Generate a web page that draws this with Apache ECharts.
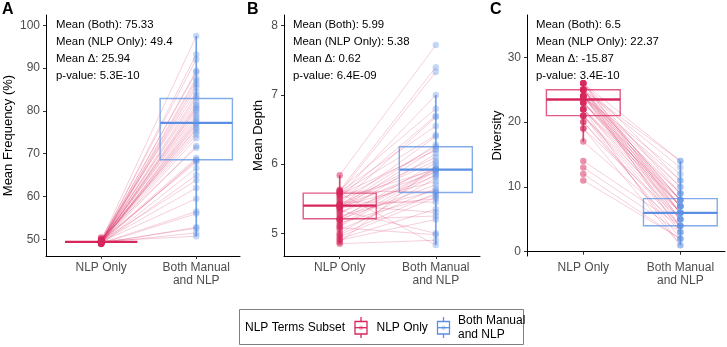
<!DOCTYPE html>
<html>
<head>
<meta charset="utf-8">
<script src="https://cdn.jsdelivr.net/npm/echarts@6/dist/echarts.min.js"></script>
<style>
html, body { margin: 0; padding: 0; background: #fff; }
#chart { width: 727px; height: 347px; }
</style>
</head>
<body>
<div id="chart"></div>
<script>
var groups = ["NLP Only", "Both Manual\nand NLP"];

// A - mean frequency (%), paired by index
var freqNlp = [49.4, 49.2, 49.6, 49.3, 49.5, 49.0, 49.4, 49.8, 49.3, 49.1, 49.5, 50.2, 49.4, 48.9, 49.6, 49.3,
  49.4, 49.7, 49.2, 49.5, 50.4, 49.4, 49.0, 49.3, 49.6, 49.4, 49.2, 49.5, 49.8, 49.3, 49.4, 48.9, 49.6, 49.1,
  49.4, 50.0, 49.3, 49.5, 49.2, 49.4, 49.7, 49.3, 49.0, 49.5, 49.4, 49.2];
var freqBoth = [83.0, 77.4, 92.0, 68.6, 80.2, 56.0, 87.6, 75.0, 79.6, 52.8, 85.5, 71.4, 89.4, 77.0, 63.8, 81.5,
  76.6, 97.5, 68.4, 74.4, 84.4, 59.5, 78.4, 80.6, 50.7, 87.0, 73.6, 69.0, 82.2, 76.0, 93.2, 65.0, 79.0, 56.5,
  86.2, 75.6, 71.8, 89.0, 52.6, 81.0, 68.0, 77.8, 66.6, 83.6, 62.0, 51.5];
// box stats: [min, q1, median, q3, max]
var freqBoxNlp = [49.4, 49.4, 49.4, 49.4, 49.4];
var freqBoxBoth = [50.7, 68.6, 77.2, 82.9, 97.5];

// B - mean depth
var depthNlp = [5.84, 5.63, 5.62, 5.61, 5.60, 5.59, 5.58, 5.57, 5.56, 5.55, 5.52, 5.50, 5.48, 5.45, 5.43, 5.42,
  5.41, 5.40, 5.40, 5.40, 5.39, 5.38, 5.37, 5.36, 5.35, 5.33, 5.30, 5.28, 5.25, 5.22, 5.21, 5.20, 5.20, 5.18,
  5.15, 5.12, 5.10, 5.08, 5.05, 5.00, 4.98, 4.95, 4.92, 4.90, 4.87, 4.85];
var depthBoth = [7.72, 6.80, 7.40, 5.60, 6.55, 7.33, 4.83, 6.42, 6.20, 7.00, 6.70, 5.92, 6.25, 5.45, 6.68, 6.10,
  5.30, 6.40, 5.88, 6.05, 5.75, 6.28, 5.50, 5.95, 6.22, 5.00, 5.83, 6.15, 5.62, 5.93, 6.02, 5.70, 5.25, 5.92,
  5.55, 5.90, 5.85, 4.98, 5.65, 5.80, 5.58, 5.52, 5.35, 5.20, 5.98, 4.90];
var depthBoxNlp = [4.85, 5.21, 5.40, 5.58, 5.84];
var depthBoxBoth = [4.83, 5.59, 5.92, 6.25, 7.00];

// C - diversity
var divNlp = [26, 26, 26, 26, 26, 25, 25, 25, 25, 25, 25, 25, 25, 25, 24, 24, 24, 24, 24, 24, 24, 24, 24,
  23, 23, 23, 23, 23, 22, 22, 22, 22, 22, 21, 21, 21, 21, 20, 20, 19, 19, 17, 14, 13, 12, 11];
var divBoth = [14, 11, 9, 7, 6, 14, 13, 10, 8, 8, 7, 6, 5, 3, 12, 11, 10, 9, 8, 7, 6, 5, 4,
  9, 8, 7, 6, 7, 8, 7, 6, 5, 1, 6, 5, 4, 2, 4, 3, 5, 1, 4, 4, 3, 2, 2];
var divBoxNlp = [17, 21, 23.5, 25, 26];
var divBoxBoth = [1, 4, 6, 8.2, 14];

var yTicksA = [50, 60, 70, 80, 90, 100];
var yTicksB = [5, 6, 7, 8];
var yTicksC = [0, 10, 20, 30];

var statsA = ["Mean (Both): 75.33", "Mean (NLP Only): 49.4", "Mean \u0394: 25.94", "p-value: 5.3E-10"];
var statsB = ["Mean (Both): 5.99", "Mean (NLP Only): 5.38", "Mean \u0394: 0.62", "p-value: 6.4E-09"];
var statsC = ["Mean (Both): 6.5", "Mean (NLP Only): 22.37", "Mean \u0394: -15.87", "p-value: 3.4E-10"];

var RED = "#D7265B";
var BLUE = "#5B8FE3";
var FONT = "Liberation Sans, Arial, sans-serif";

var panels = [
  { letter: "A", name: "Mean Frequency (%)", left: 46, width: 194, ymin: 46.1, ymax: 102.4, ticks: yTicksA,
    nameGap: 31, nlp: freqNlp, both: freqBoth, boxes: [freqBoxNlp, freqBoxBoth], stats: statsA, lx: 2, tx: 56 },
  { letter: "B", name: "Mean Depth", left: 284, width: 196, ymin: 4.672, ymax: 8.155, ticks: yTicksB,
    nameGap: 19, nlp: depthNlp, both: depthBoth, boxes: [depthBoxNlp, depthBoxBoth], stats: statsB, lx: 247, tx: 293 },
  { letter: "C", name: "Diversity", left: 527, width: 198, ymin: -0.66, ymax: 36.53, ticks: yTicksC,
    nameGap: 23, nlp: divNlp, both: divBoth, boxes: [divBoxNlp, divBoxBoth], stats: statsC, lx: 490, tx: 536 }
];

var chart = echarts.init(document.getElementById("chart"));

var grids = [], xAxes = [], yAxes = [], series = [], graphics = [];

panels.forEach(function (p, i) {
  grids.push({ left: p.left, top: 15, width: p.width, height: 241 });
  xAxes.push({
    type: "value", gridIndex: i, min: 0.42, max: 2.46,
    axisLine: { lineStyle: { color: "#000", width: 1 } },
    axisTick: { customValues: [1, 2], length: 3, lineStyle: { color: "#333" } },
    axisLabel: {
      customValues: [1, 2], margin: 5, color: "#4d4d4d", fontSize: 12, fontFamily: FONT, lineHeight: 13,
      formatter: function (v) { return groups[Math.round(v) - 1]; }
    },
    splitLine: { show: false }
  });
  yAxes.push({
    type: "value", gridIndex: i, min: p.ymin, max: p.ymax,
    name: p.name, nameLocation: "middle", nameGap: p.nameGap, nameRotate: 90,
    nameTextStyle: { color: "#000", fontSize: 13, fontFamily: FONT },
    axisLine: { show: true, lineStyle: { color: "#000", width: 1 } },
    axisTick: { show: true, customValues: p.ticks, length: 3, lineStyle: { color: "#333" } },
    axisLabel: { customValues: p.ticks, margin: 6, color: "#4d4d4d", fontSize: 12, fontFamily: FONT },
    splitLine: { show: false }
  });

  // paired lines
  series.push({
    type: "custom", xAxisIndex: i, yAxisIndex: i, z: 1, silent: true,
    data: p.nlp.map(function (v, k) { return [v, p.both[k]]; }),
    renderItem: function (params, api) {
      var a = api.coord([1, api.value(0)]);
      var b = api.coord([2, api.value(1)]);
      return {
        type: "line",
        shape: { x1: a[0], y1: a[1], x2: b[0], y2: b[1] },
        style: { stroke: RED, opacity: 0.22, lineWidth: 1 }
      };
    }
  });

  // boxes
  series.push({
    type: "custom", xAxisIndex: i, yAxisIndex: i, z: 2, silent: true,
    data: p.boxes.map(function (s, k) { return [k + 1].concat(s); }),
    renderItem: function (params, api) {
      var x = api.value(0);
      var col = x === 1 ? RED : BLUE;
      var hw = 0.38;
      var lo = api.coord([x, api.value(1)]);
      var q1 = api.coord([x - hw, api.value(2)]);
      var md = api.coord([x - hw, api.value(3)]);
      var q3 = api.coord([x + hw, api.value(4)]);
      var hi = api.coord([x, api.value(5)]);
      var mdr = api.coord([x + hw, api.value(3)]);
      return {
        type: "group",
        children: [
          { type: "line", shape: { x1: hi[0], y1: hi[1], x2: hi[0], y2: q3[1] },
            style: { stroke: col, lineWidth: 1.7, opacity: 0.85 } },
          { type: "line", shape: { x1: lo[0], y1: q1[1], x2: lo[0], y2: lo[1] },
            style: { stroke: col, lineWidth: 1.7, opacity: 0.85 } },
          { type: "rect", shape: { x: q1[0], y: q3[1], width: q3[0] - q1[0], height: q1[1] - q3[1] },
            style: { fill: null, stroke: col, lineWidth: 1.4, opacity: 0.75 } },
          { type: "line", shape: { x1: md[0], y1: md[1], x2: mdr[0], y2: md[1] },
            style: { stroke: col, lineWidth: 2.4 } }
        ]
      };
    }
  });

  // points
  series.push({
    type: "scatter", xAxisIndex: i, yAxisIndex: i, z: 3, silent: true,
    symbolSize: 6.5, itemStyle: { color: RED, opacity: 0.5 },
    data: p.nlp.map(function (v) { return [1, v]; })
  });
  series.push({
    type: "scatter", xAxisIndex: i, yAxisIndex: i, z: 3, silent: true,
    symbolSize: 6.5, itemStyle: { color: BLUE, opacity: 0.35 },
    data: p.both.map(function (v) { return [2, v]; })
  });

  graphics.push({
    type: "text", left: p.lx, top: 2,
    style: { text: p.letter, font: "bold 16px " + FONT, fill: "#000" }
  });
  p.stats.forEach(function (t, k) {
    graphics.push({
      type: "text", x: p.tx, y: 25 + k * 17,
      style: { text: t, font: "11.4px " + FONT, fill: "#000", textVerticalAlign: "middle" }
    });
  });
});

// legend
function glyph(cx, col) {
  return [
    { type: "line", shape: { x1: cx, y1: 317, x2: cx, y2: 338 }, style: { stroke: col, lineWidth: 1.3 } },
    { type: "rect", shape: { x: cx - 6, y: 321.5, width: 12, height: 12.5 },
      style: { fill: "#fff", stroke: col, lineWidth: 1.3 } },
    { type: "line", shape: { x1: cx - 6, y1: 327.7, x2: cx + 6, y2: 327.7 }, style: { stroke: col, lineWidth: 1.3 } },
    { type: "circle", shape: { cx: cx, cy: 327.7, r: 2.2 }, style: { fill: col, opacity: 0.35 } }
  ];
}
graphics.push({ type: "rect", shape: { x: 239.5, y: 309.5, width: 284, height: 35 },
  style: { fill: "#fff", stroke: "#7f7f7f", lineWidth: 1 } });
graphics.push({ type: "text", x: 245, y: 328,
  style: { text: "NLP Terms Subset", font: "12px " + FONT, fill: "#000", textVerticalAlign: "middle" } });
graphics = graphics.concat(glyph(361, RED), glyph(443.5, BLUE));
graphics.push({ type: "text", x: 376.5, y: 328,
  style: { text: "NLP Only", font: "12px " + FONT, fill: "#000", textVerticalAlign: "middle" } });
graphics.push({ type: "text", x: 458, y: 327.5,
  style: { text: "Both Manual\nand NLP", font: "12px " + FONT, lineHeight: 13.5, fill: "#000", textVerticalAlign: "middle" } });

chart.setOption({
  animation: false,
  grid: grids,
  xAxis: xAxes,
  yAxis: yAxes,
  series: series,
  graphic: graphics
});
</script>
</body>
</html>
